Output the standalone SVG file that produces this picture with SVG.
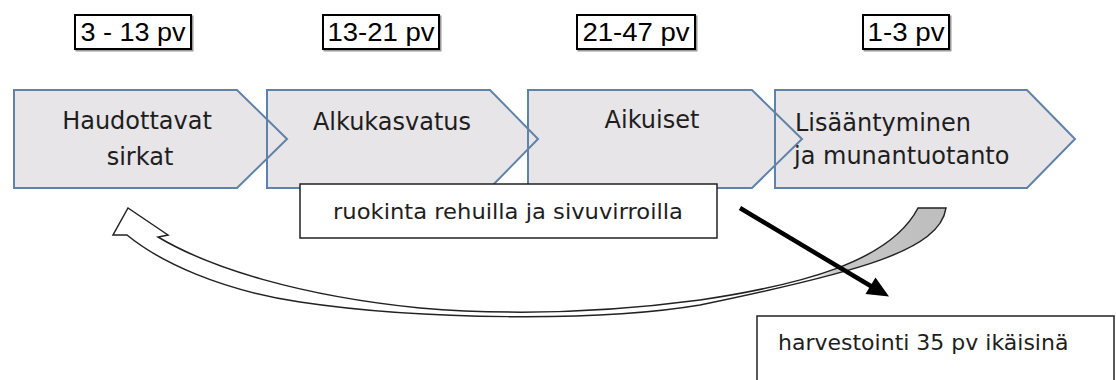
<svg xmlns="http://www.w3.org/2000/svg" width="1116" height="380" viewBox="0 0 1116 380">
<style>
.chev{fill:#e7e5e7;stroke:none}
.chevline{fill:none;stroke:#5f82a8;stroke-width:2}
.ct{font-family:"DejaVu Sans",sans-serif;font-size:24px;fill:#1e1e1e}
.lbl{fill:#fff;stroke:#000;stroke-width:2}
.shadow{fill:none;stroke:#9a9a9a;stroke-width:2}
.lt{font-family:"Liberation Sans",Arial,sans-serif;font-size:26px;fill:#000}
.box{fill:#fff;stroke:#222;stroke-width:1.5}
.bt{font-family:"DejaVu Sans",sans-serif;font-size:22px;fill:#1e1e1e}
</style>
<defs>
<linearGradient id="g" gradientUnits="userSpaceOnUse" x1="946" y1="0" x2="700" y2="0">
<stop offset="0" stop-color="#bdbdbd"/>
<stop offset="0.45" stop-color="#c8c8c8"/>
<stop offset="0.55" stop-color="#ffffff"/>
<stop offset="1" stop-color="#ffffff"/>
</linearGradient>
</defs>

<g id="stage-fills">
<polygon class="chev" points="14,90 237,90 287,139 237,188 14,188"/>
<polygon class="chev" points="267,90 490,90 538,139 490,188 267,188"/>
<polygon class="chev" points="528,90 752,90 802,139 752,188 528,188"/>
<polygon class="chev" points="775,90 1027,90 1075,139 1027,188 775,188"/>
</g>
<g id="node-haudottavat">
<polygon class="chevline" points="14,90 237,90 287,139 237,188 14,188"/>
<text class="ct" x="137" y="129" text-anchor="middle">Haudottavat</text>
<text class="ct" x="140" y="165" text-anchor="middle">sirkat</text>
</g>
<g id="node-alkukasvatus">
<polygon class="chevline" points="267,90 490,90 538,139 490,188 267,188"/>
<text class="ct" x="392" y="130" text-anchor="middle">Alkukasvatus</text>
</g>
<g id="node-aikuiset">
<polygon class="chevline" points="528,90 752,90 802,139 752,188 528,188"/>
<text class="ct" x="652" y="128" text-anchor="middle">Aikuiset</text>
</g>
<g id="node-lisaantyminen">
<polygon class="chevline" points="775,90 1027,90 1075,139 1027,188 775,188"/>
<text class="ct" x="795" y="131">Lisääntyminen</text>
<text class="ct" x="794" y="164">ja munantuotanto</text>
</g>

<g id="label-3-13">
<rect class="shadow" x="76.5" y="16.5" width="116" height="34"/>
<rect class="lbl" x="75" y="15" width="116" height="34"/>
<text class="lt" x="133" y="41" text-anchor="middle" textLength="105" lengthAdjust="spacingAndGlyphs">3 - 13 pv</text>
</g>
<g id="label-13-21">
<rect class="shadow" x="324.5" y="16.5" width="116" height="34"/>
<rect class="lbl" x="323" y="15" width="116" height="34"/>
<text class="lt" x="381" y="41" text-anchor="middle" textLength="107" lengthAdjust="spacingAndGlyphs">13-21 pv</text>
</g>
<g id="label-21-47">
<rect class="shadow" x="578.5" y="16.5" width="118" height="34"/>
<rect class="lbl" x="577" y="15" width="118" height="34"/>
<text class="lt" x="636" y="41" text-anchor="middle" textLength="107" lengthAdjust="spacingAndGlyphs">21-47 pv</text>
</g>
<g id="label-1-3">
<rect class="shadow" x="864.5" y="16.5" width="86" height="34"/>
<rect class="lbl" x="863" y="15" width="86" height="34"/>
<text class="lt" x="906" y="41" text-anchor="middle" textLength="77" lengthAdjust="spacingAndGlyphs">1-3 pv</text>
</g>

<g id="node-ruokinta">
<rect class="box" x="300" y="184" width="417" height="54"/>
<text class="bt" x="333" y="219" textLength="350" lengthAdjust="spacingAndGlyphs">ruokinta rehuilla ja sivuvirroilla</text>
</g>

<g id="connectors">
<path d="M946,208 C940,250 860,272 700,305 C600,322 420,320 300,302 C220,290 160,262 127,235 L113,235 L128,208 L168,235 L158,237 C210,268 300,296 420,308 C540,318 640,308 700,300 C800,285 890,262 918,208 Z" fill="url(#g)" stroke="#222" stroke-width="1.5" stroke-linejoin="miter"/>
<line x1="740" y1="208" x2="872" y2="286.8" stroke="#000" stroke-width="4.5"/>
<polygon points="889,296.5 865.5,294 875.5,277.5" fill="#000"/>
</g>

<g id="node-harvestointi">
<rect class="box" x="757" y="316" width="357" height="80"/>
<text class="bt" x="778" y="350">harvestointi 35 pv ikäisinä</text>
</g>
</svg>
